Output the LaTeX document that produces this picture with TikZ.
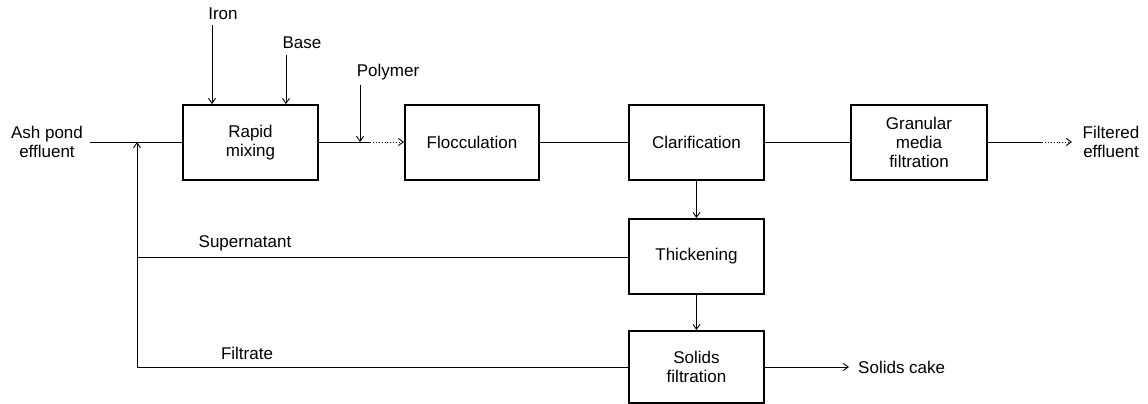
\documentclass[tikz,border=0pt]{standalone}
\usepackage{fontspec}
\setmainfont{Liberation Sans}
\usetikzlibrary{arrows.meta}
\begin{document}
\begin{tikzpicture}[x=1pt,y=-1pt,
  font=\fontsize{17}{19}\selectfont,
  box/.style={draw,line width=1.8pt,minimum width=135pt,minimum height=75pt,inner sep=0pt,align=center},
  lbl/.style={inner sep=0pt,align=center},
  conn/.style={line width=0.9pt},
  >={Straight Barb[length=5pt,width=7pt]}]
\useasboundingbox (0,0) rectangle (1148,404);
% boxes
\node[box] (rapid) at (250.5,142.5) {Rapid\\mixing};
\node[box,minimum width=134pt] (flocc) at (472,142.5) {Flocculation};
\node[box] (clar) at (696.5,142.5) {Clarification};
\node[box,minimum width=136pt] (gran) at (919,142.5) {Granular\\media\\filtration};
\node[box] (thick) at (696.5,256.5) {Thickening};
\node[box,minimum height=72pt] (solids) at (696.5,367) {Solids\\filtration};
% labels
\node[lbl] (ash) at (47,142) {Ash pond\\effluent};
\node[lbl] (iron) at (223,14) {Iron};
\node[lbl] (base) at (302,43) {Base};
\node[lbl] (poly) at (388,72) {Polymer};
\node[lbl] (super) at (245,243) {Supernatant};
\node[lbl] (filt) at (247,353) {Filtrate};
\node[lbl] (feff) at (1111,142) {Filtered\\effluent};
\node[lbl,anchor=west] (cake) at (858,367) {Solids cake};
% coordinates
\coordinate (in) at (90,142);
\coordinate (j) at (137,142);
\coordinate (s) at (137,257);
\coordinate (b) at (137,367);
\coordinate (ironA) at (212,25);
\coordinate (baseA) at (286,55);
\coordinate (polyA) at (360,85);
\coordinate (p) at (360,142);
\coordinate (pd) at (370,142);
\coordinate (fm) at (1042,142);
\coordinate (fe) at (1072,142);
\coordinate (ce) at (849,367);
% connectors
\draw[conn] (in) -- (rapid.west |- in);
\draw[conn,->] (b) -- (j);
\draw[conn] (thick.west |- s) -- (s);
\draw[conn] (solids.west |- b) -- (b);
\draw[conn,->] (ironA) -- (ironA |- rapid.north);
\draw[conn,->] (baseA) -- (baseA |- rapid.north);
\draw[conn,->] (polyA) -- (p);
\draw[conn] (rapid.east |- p) -- (pd);
\draw[conn,dotted,->] (pd) -- (flocc.west |- p);
\draw[conn] (flocc.east |- p) -- (clar.west |- p);
\draw[conn] (clar.east |- p) -- (gran.west |- p);
\draw[conn] (gran.east |- p) -- (fm);
\draw[conn,dotted,->] (fm) -- (fe);
\draw[conn,->] (clar.south) -- (thick.north);
\draw[conn,->] (thick.south) -- (solids.north);
\draw[conn,->] (solids.east |- ce) -- (ce);
\end{tikzpicture}
\end{document}
